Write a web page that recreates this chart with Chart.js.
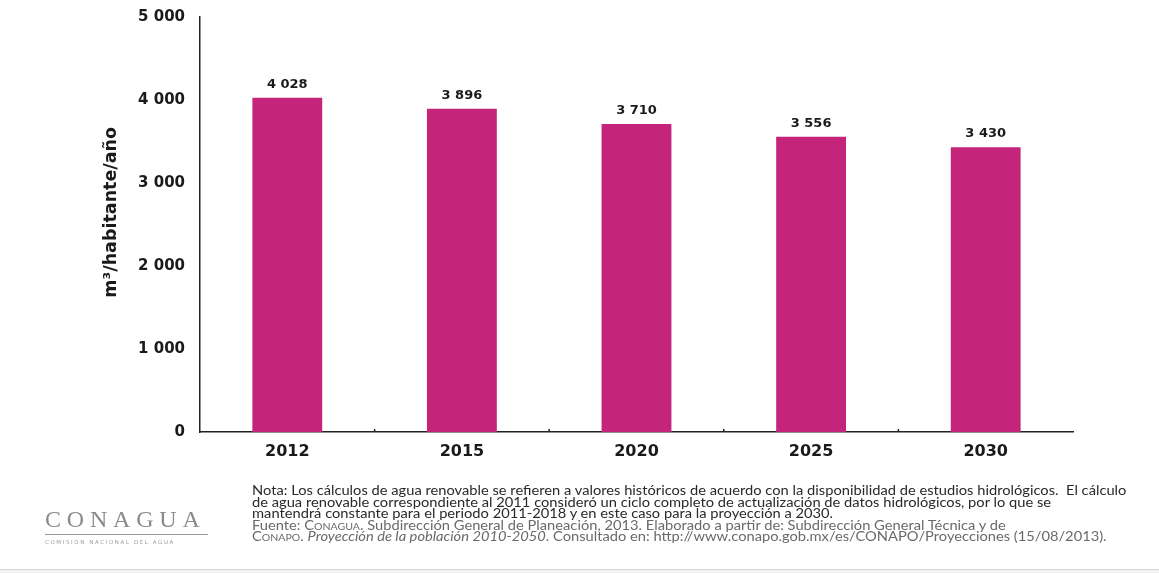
<!DOCTYPE html>
<html lang="es">
<head>
<meta charset="utf-8">
<title>Agua renovable per cápita</title>
<script src="https://cdn.jsdelivr.net/npm/chart.js@4.4.1/dist/chart.umd.min.js"></script>
<style>
  html, body { margin: 0; padding: 0; background: #fff; }
  #wrap { position: relative; width: 1159px; height: 573px; overflow: hidden; }
  #chart { position: absolute; left: 0; top: 0; }
  .nota {
    position: absolute; left: 252px; top: 485px;
    font-family: Lato, "Open Sans", sans-serif; font-size: 12.5px; line-height: 11.6px;
    color: #2a2a2a; white-space: pre;
    transform: scaleX(1.175); transform-origin: 0 0;
  }
  .nota .src { color: #6a6a6a; }
  .sc { font-variant: small-caps; }
  .logo {
    position: absolute; left: 45px; top: 506px; width: 163px;
    font-family: "Liberation Serif", "DejaVu Serif", serif; color: #8a8a8a;
  }
  .logo .name { font-size: 24px; letter-spacing: 5.8px; line-height: 26px; }
  .logo .rule { height: 1px; background: #9a9a9a; margin-top: 2px; }
  .logo .sub { font-family: "DejaVu Sans", sans-serif; font-size: 5.5px; letter-spacing: 1.6px; margin-top: 4px; color: #9a9a9a; white-space: nowrap; }
  .baseline { position: absolute; left: 0; top: 569px; width: 1159px; height: 1px; background: #d8d8d8; }
  .below { position: absolute; left: 0; top: 570px; width: 1159px; height: 3px; background: #f3f3f3; }
</style>
</head>
<body>
<div id="wrap">
  <canvas id="chart" width="1159" height="573"></canvas>
  <div class="nota">Nota: Los cálculos de agua renovable se refieren a valores históricos de acuerdo con la disponibilidad de estudios hidrológicos.  El cálculo
de agua renovable correspondiente al 2011 consideró un ciclo completo de actualización de datos hidrológicos, por lo que se
mantendrá constante para el periodo 2011-2018 y en este caso para la proyección a 2030.
<span class="src">Fuente: <span class="sc">Conagua</span>. Subdirección General de Planeación, 2013. Elaborado a partir de: Subdirección General Técnica y de
<span class="sc">Conapo</span>. <i>Proyección de la población 2010-2050</i>. Consultado en: http://www.conapo.gob.mx/es/CONAPO/Proyecciones (15/08/2013).</span></div>
  <div class="logo">
    <div class="name">CONAGUA</div>
    <div class="rule"></div>
    <div class="sub">COMISIÓN NACIONAL DEL AGUA</div>
  </div>
  <div class="baseline"></div>
  <div class="below"></div>
</div>
<script>
const years = ['2012', '2015', '2020', '2025', '2030'];
const aguaRenovable = [4028, 3896, 3710, 3556, 3430];
const yTicks = [0, 1000, 2000, 3000, 4000, 5000];

const barColor = '#C4247A';
const labelFont = 'DejaVu Sans';

// numbers written with a space as thousands separator: 4 028
function fmt(v) {
  return String(v).replace(/\B(?=(\d{3})+(?!\d))/g, ' ');
}

// value above each bar
const valueLabels = {
  id: 'valueLabels',
  afterDatasetsDraw(chart) {
    const ctx = chart.ctx;
    const meta = chart.getDatasetMeta(0);
    ctx.save();
    ctx.font = 'bold 13px "' + labelFont + '"';
    ctx.fillStyle = '#1a1a1a';
    ctx.textAlign = 'center';
    ctx.textBaseline = 'bottom';
    meta.data.forEach((bar, i) => {
      ctx.fillText(fmt(chart.data.datasets[0].data[i]), bar.x, bar.y - 7);
    });
    ctx.restore();
  }
};

// little marks on the x axis between categories
const catMarks = {
  id: 'catMarks',
  afterDraw(chart) {
    const x = chart.scales.x;
    const ctx = chart.ctx;
    const y = chart.chartArea.bottom;
    ctx.save();
    ctx.strokeStyle = '#222';
    ctx.lineWidth = 1.5;
    for (let i = 1; i < years.length; i++) {
      const px = (x.getPixelForValue(i - 1) + x.getPixelForValue(i)) / 2;
      ctx.beginPath();
      ctx.moveTo(px, y);
      ctx.lineTo(px, y - 3);
      ctx.stroke();
    }
    ctx.restore();
  }
};

new Chart(document.getElementById('chart'), {
  type: 'bar',
  data: {
    labels: years,
    datasets: [{
      data: aguaRenovable,
      backgroundColor: barColor,
      borderWidth: 0,
      barPercentage: 0.4,
      categoryPercentage: 1.0
    }]
  },
  options: {
    responsive: false,
    animation: false,
    layout: { padding: { left: 101, right: 86, top: 17, bottom: 0 } },
    plugins: { legend: { display: false }, tooltip: { enabled: false } },
    scales: {
      x: {
        grid: { display: false, drawTicks: false },
        border: { display: true, color: '#222', width: 1.5 },
        ticks: { color: '#1a1a1a', padding: 10, font: { family: labelFont, size: 16, weight: 'bold' } },
        afterFit(scale) { scale.height = 141; }
      },
      y: {
        min: 0,
        max: 5000,
        afterBuildTicks(scale) { scale.ticks = yTicks.map(v => ({ value: v })); },
        grid: { display: false, drawTicks: false },
        border: { display: true, color: '#222', width: 1.5 },
        ticks: {
          color: '#1a1a1a', padding: 15,
          font: { family: labelFont, size: 15, weight: 'bold' },
          callback: v => fmt(v)
        },
        title: {
          display: true,
          // leading spaces nudge the rotated title a little upward
          text: '    m³/habitante/año',
          color: '#1a1a1a',
          padding: 0,
          font: { family: labelFont, size: 17.5, weight: 'bold' }
        },
        afterFit(scale) {
          scale.width = 99;
          scale.paddingTop = 0;
          scale.paddingBottom = 0;
        }
      }
    }
  },
  plugins: [valueLabels, catMarks]
});
</script>
</body>
</html>
